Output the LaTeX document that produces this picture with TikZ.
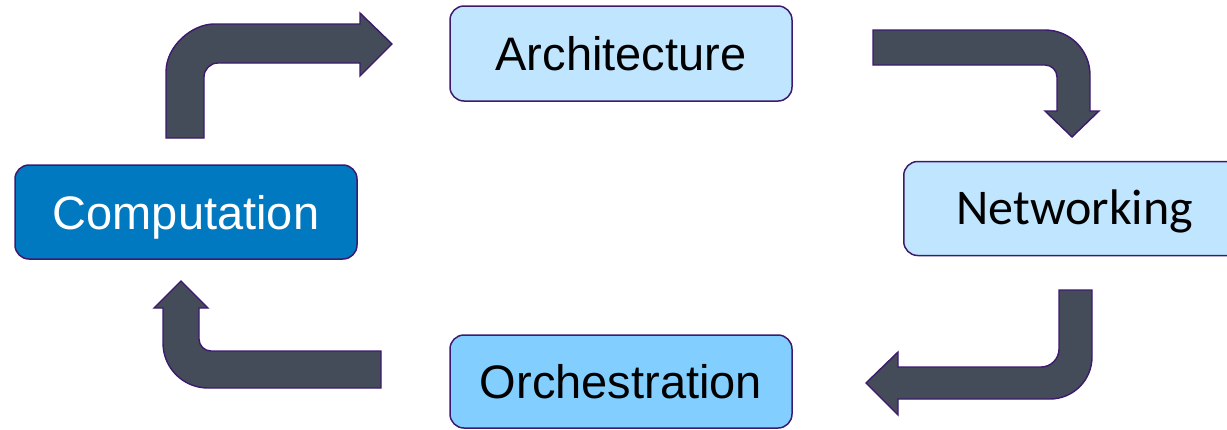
\documentclass[tikz,border=0pt]{standalone}
\usepackage{fontspec}
\setmainfont{Liberation Sans}
\newfontfamily\carlito{Carlito}
\definecolor{framepurple}{RGB}{62,26,110}
\definecolor{arrowgray}{RGB}{67,76,88}
\definecolor{paleblue}{RGB}{192,230,255}
\definecolor{midblue}{RGB}{130,207,255}
\definecolor{deepblue}{RGB}{0,121,193}
\tikzset{
  stage/.style={draw=framepurple, line width=1.5pt, rounded corners=14pt,
    inner sep=0pt, font=\fontsize{47}{56}\selectfont, text=black,
    text height=34pt, text depth=0pt},
  bend arrow/.style={fill=arrowgray, draw=framepurple, line width=1.4pt, line join=miter}
}
\begin{document}
\begin{tikzpicture}[x=1pt, y=-1pt]
\useasboundingbox (0,0) rectangle (1227,429);
\clip (0,0) rectangle (1227,429);

% stages of the cycle
\node[stage, fill=paleblue, minimum width=342pt, minimum height=95pt] (arch) at (621,53.5) {Architecture};
\node[stage, fill=paleblue, minimum width=342pt, minimum height=94pt, anchor=west,
      font=\carlito\fontsize{50}{60}\selectfont, text height=32pt] (net) at (903,208.5) {Networking};
\node[stage, fill=deepblue, text=white, minimum width=342pt, minimum height=94pt] (comp) at (186,212) {Computation};
\node[stage, fill=midblue, minimum width=342pt, minimum height=93pt] (orch) at (621,381.5) {Orchestration};

% bent block arrows between the stages
% Computation -> Architecture
\draw[bend arrow] (166,138) -- (166,72) .. controls (166,45.5) and (192.5,24) .. (214,24)
  -- (360,24) -- (360,13) -- (392,44) -- (360,76) -- (360,63) -- (218,63)
  .. controls (210.3,63) and (204,69.3) .. (204,77) -- (204,138) -- cycle;
% Architecture -> Networking
\draw[bend arrow] (873,30) -- (1045,30) .. controls (1069.9,30) and (1090,50.1) .. (1090,75)
  -- (1090,111) -- (1099,111) -- (1072,137) -- (1045,111) -- (1057,111) -- (1057,77)
  .. controls (1057,70.4) and (1051.6,65) .. (1045,65) -- (873,65) -- cycle;
% Networking -> Orchestration
\draw[bend arrow] (1059,290) -- (1092,290) -- (1092,357) .. controls (1092,380.2) and (1073.2,399) .. (1050,399)
  -- (898,399) -- (898,415) -- (866,383) -- (898,352) -- (898,367) -- (1041,367)
  .. controls (1050.9,367) and (1059,358.9) .. (1059,349) -- cycle;
% Orchestration -> Computation
\draw[bend arrow] (381,351) -- (211,351) .. controls (204.4,351) and (199,345.6) .. (199,339)
  -- (199,308) -- (208,308) -- (181,281) -- (154,308) -- (163,308) -- (163,343)
  .. controls (163,367.9) and (183.1,388) .. (208,388) -- (381,388) -- cycle;
\end{tikzpicture}
\end{document}
